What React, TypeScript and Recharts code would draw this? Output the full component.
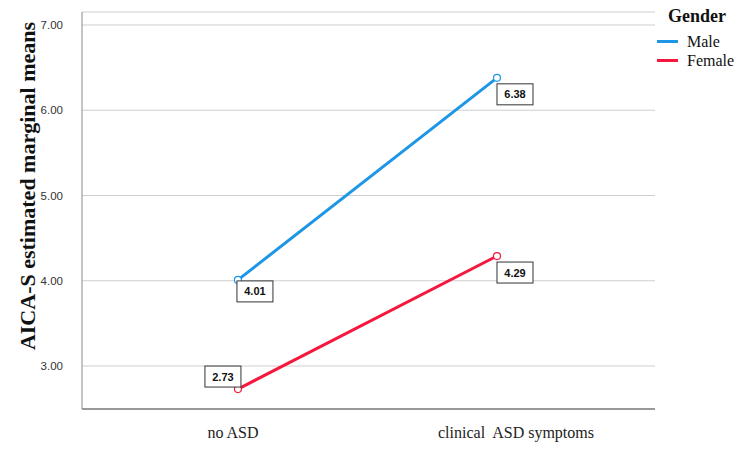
import React from "react";
import {
  LineChart,
  Line,
  XAxis,
  YAxis,
  CartesianGrid,
  LabelList,
  Label,
} from "recharts";

// Groups on the x axis and the estimated marginal means per gender
const groups = ["no ASD", "clinical  ASD symptoms"];
const maleMeans = [4.01, 6.38];
const femaleMeans = [2.73, 4.29];
const yTicks = [3, 4, 5, 6, 7];

const BLUE = "#1e96e6";
const RED = "#f5173e";

const data = groups.map((g, i) => ({
  x: i,
  group: g,
  male: maleMeans[i],
  female: femaleMeans[i],
}));

const legendItems = [
  { name: "Male", color: BLUE },
  { name: "Female", color: RED },
];

// box placement relative to the point: [dx, dy] of the box top-left corner
const maleBox = [
  [-1, 1],
  [0, 6],
];
const femaleBox = [
  [-33, -23],
  [0, 6],
];

const makeBox = (offsets: number[][]) => (props: any) => {
  const { x, y, value, index } = props;
  const [dx, dy] = offsets[index] || [0, 0];
  const w = 36;
  const h = 21;
  return (
    <g>
      <rect
        x={x + dx}
        y={y + dy}
        width={w}
        height={h}
        fill="#fff"
        stroke="#333"
        strokeWidth={1}
      />
      <text
        x={x + dx + w / 2}
        y={y + dy + h / 2 + 4}
        textAnchor="middle"
        fontFamily="Liberation Sans, Arial, sans-serif"
        fontWeight="bold"
        fontSize={11}
        fill="#111"
      >
        {Number(value).toFixed(2)}
      </text>
    </g>
  );
};

const tickShift = [-5, 19];

const XTick = (props: any) => {
  const { x, y, payload, index } = props;
  return (
    <text
      x={x + (tickShift[index] || 0)}
      y={y + 5}
      textAnchor="middle"
      fontFamily="Liberation Serif, Times New Roman, serif"
      fontSize={16}
      fill="#222"
      style={{ whiteSpace: "pre" }}
    >
      {groups[payload.value]}
    </text>
  );
};

export default function App() {
  return (
    <div
      style={{
        position: "absolute",
        left: 0,
        top: 0,
        width: 743,
        height: 449,
        background: "#fff",
      }}
    >
      <LineChart
        width={743}
        height={449}
        data={data}
        margin={{ top: 12, right: 88, bottom: 10, left: 0 }}
      >
        <CartesianGrid vertical={false} stroke="#cfcfcf" strokeWidth={1} />
        <XAxis
          type="number"
          dataKey="x"
          height={30}
          domain={[-0.602, 1.61]}
          ticks={[0, 1]}
          tickLine={false}
          tickSize={0}
          tickMargin={24}
          axisLine={{ stroke: "#999", strokeWidth: 2 }}
          tick={<XTick />}
          interval={0}
        />
        <YAxis
          type="number"
          width={82}
          domain={[2.496, 7.152]}
          ticks={yTicks}
          allowDataOverflow
          tickLine={false}
          tickSize={0}
          tickMargin={19}
          axisLine={{ stroke: "#8a8a8a", strokeWidth: 1 }}
          tickFormatter={(v: number) => v.toFixed(2)}
          tick={{
            fontFamily: "Liberation Sans, Arial, sans-serif",
            fontSize: 11.5,
            fill: "#333",
          }}
        >
          <Label
            content={() => (
              <text
                x={35}
                y={186}
                transform="rotate(-90 35 186)"
                textAnchor="middle"
                fontFamily="Liberation Serif, Times New Roman, serif"
                fontWeight="bold"
                fontSize={22}
                fill="#111"
              >
                AICA-S estimated marginal means
              </text>
            )}
          />
        </YAxis>
        <Line
          type="linear"
          dataKey="male"
          name="Male"
          stroke={BLUE}
          strokeWidth={3}
          dot={{ r: 3.5, stroke: BLUE, strokeWidth: 1.2, fill: "#fff" }}
          activeDot={false}
          isAnimationActive={false}
        >
          <LabelList dataKey="male" content={makeBox(maleBox)} />
        </Line>
        <Line
          type="linear"
          dataKey="female"
          name="Female"
          stroke={RED}
          strokeWidth={3}
          dot={{ r: 3.5, stroke: RED, strokeWidth: 1.2, fill: "#fff" }}
          activeDot={false}
          isAnimationActive={false}
        >
          <LabelList dataKey="female" content={makeBox(femaleBox)} />
        </Line>
      </LineChart>
      <div
        style={{
          position: "absolute",
          top: 7,
          left: 657,
          fontFamily: "Liberation Serif, Times New Roman, serif",
          color: "#111",
          lineHeight: 1,
        }}
      >
        <div
          style={{
            fontWeight: "bold",
            fontSize: 18,
            marginLeft: 11,
            marginBottom: 7,
          }}
        >
          Gender
        </div>
        {legendItems.map((it) => (
          <div
            key={it.name}
            style={{ display: "flex", alignItems: "center", height: 19 }}
          >
            <span
              style={{
                display: "inline-block",
                width: 21,
                height: 3,
                background: it.color,
                marginRight: 9,
              }}
            />
            <span style={{ fontSize: 16 }}>{it.name}</span>
          </div>
        ))}
      </div>
    </div>
  );
}
